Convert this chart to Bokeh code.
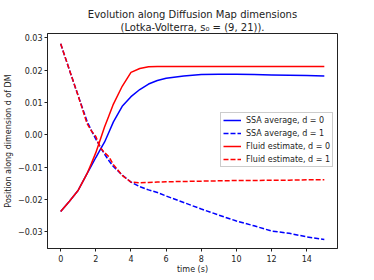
from bokeh.plotting import figure
from bokeh.models import Legend, LegendItem, FixedTicker, Range1d, Title
from bokeh.embed import file_html
from bokeh.resources import INLINE

t = [0, 0.5, 1, 1.5, 1.75, 2, 2.25, 2.5, 2.75, 3, 3.5, 4, 4.5, 5, 5.5, 6, 7, 8, 9, 10, 11, 12, 13, 14, 15]
ssa_d0 = [-0.0237, -0.0205, -0.0171, -0.0120, -0.0095, -0.0070, -0.0046, -0.0022, 0.0009, 0.0040,
          0.0088, 0.0118, 0.0140, 0.0157, 0.0168, 0.0175, 0.0182, 0.0186, 0.0187, 0.0187,
          0.0186, 0.0185, 0.0184, 0.0183, 0.0182]
fluid_d0 = [-0.0237, -0.0205, -0.0171, -0.0120, -0.0088, -0.0055, -0.0015, 0.0025, 0.0060, 0.0095,
            0.0150, 0.0193, 0.0205, 0.0210, 0.0211, 0.0211, 0.0211, 0.0211, 0.0211, 0.0211,
            0.0211, 0.0211, 0.0211, 0.0211, 0.0211]
ssa_d1 = [0.0281, 0.0200, 0.0120, 0.0042, 0.0013, -0.0013, -0.0037, -0.0060, -0.0080, -0.0098,
          -0.0124, -0.0146, -0.0160, -0.0170, -0.0178, -0.0189, -0.0209, -0.0229, -0.0248, -0.0266,
          -0.0281, -0.0297, -0.0304, -0.0315, -0.0323]
fluid_d1 = [0.0281, 0.0200, 0.0120, 0.0035, 0.0012, -0.0005, -0.0040, -0.0055, -0.0068, -0.0092,
            -0.0125, -0.0146, -0.0148, -0.0147, -0.0146, -0.0145, -0.0144, -0.0143, -0.0142, -0.0141,
            -0.0141, -0.0140, -0.0140, -0.0139, -0.0139]

x_ticks = [0, 2, 4, 6, 8, 10, 12, 14]
y_ticks = [-0.03, -0.02, -0.01, 0.0, 0.01, 0.02, 0.03]
y_tick_labels = ["\u22120.03", "\u22120.02", "\u22120.01", "0.00", "0.01", "0.02", "0.03"]
labels = ["SSA average, d = 0", "SSA average, d = 1", "Fluid estimate, d = 0", "Fluid estimate, d = 1"]
title_lines = ["Evolution along Diffusion Map dimensions", "(Lotka-Volterra, s\u2080 = (9, 21))."]

FONT = "DejaVu Sans"
INK = "#222222"

p = figure(frame_width=290, frame_height=215, output_backend="svg", toolbar_location=None,
           x_range=Range1d(-0.75, 15.75), y_range=Range1d(-0.0351, 0.0313),
           min_border_left=38, min_border_right=24, min_border_bottom=22, min_border_top=33)

# title: second line added first so it sits nearest the plot
for txt, so in ((title_lines[1], 1), (title_lines[0], 0)):
    p.add_layout(Title(text=txt, align="center", text_font=FONT, text_font_size="10px",
                       text_font_style="normal", text_color=INK, standoff=so, offset=0,
                       text_line_height=0.85), "above")

r1 = p.line(t, ssa_d0, line_color="blue", line_width=1.5)
r2 = p.line(t, ssa_d1, line_color="blue", line_width=1.5, line_dash="5 2")
r3 = p.line(t, fluid_d0, line_color="red", line_width=1.5)
r4 = p.line(t, fluid_d1, line_color="red", line_width=1.5, line_dash="5 2")

p.xgrid.visible = False
p.ygrid.visible = False
p.outline_line_color = INK
p.outline_line_width = 1

for ax in (p.xaxis[0], p.yaxis[0]):
    ax.major_label_text_font = FONT
    ax.major_label_text_font_size = "8px"
    ax.major_label_text_color = INK
    ax.axis_label_text_font = FONT
    ax.axis_label_text_font_size = "8px"
    ax.axis_label_text_font_style = "normal"
    ax.axis_label_text_color = INK
    ax.minor_tick_line_color = None
    ax.major_tick_in = 0
    ax.major_tick_out = 3
    ax.axis_line_color = INK
    ax.major_tick_line_color = INK

p.xaxis.ticker = FixedTicker(ticks=x_ticks)
p.yaxis.ticker = FixedTicker(ticks=y_ticks)
p.yaxis.major_label_overrides = {v: s for v, s in zip(y_ticks, y_tick_labels)}
p.xaxis.axis_label = "time (s)"
p.yaxis.axis_label = "Position along dimension d of DM"
p.xaxis.axis_label_standoff = 0
p.yaxis.axis_label_standoff = 2
p.xaxis.major_label_standoff = 3
p.yaxis.major_label_standoff = 2

legend = Legend(items=[LegendItem(label=l, renderers=[r]) for l, r in zip(labels, [r1, r2, r3, r4])],
                location=(173, 81))
legend.label_text_font = FONT
legend.label_text_font_size = "8px"
legend.label_text_color = INK
legend.glyph_width = 18
legend.glyph_height = 10
legend.label_height = 10
legend.spacing = 3
legend.padding = 2
legend.margin = 0
legend.label_standoff = 5
legend.border_line_color = "#cccccc"
legend.border_line_alpha = 1
legend.background_fill_alpha = 0.8
p.add_layout(legend)

open("out.html", "w").write(file_html(p, INLINE))
